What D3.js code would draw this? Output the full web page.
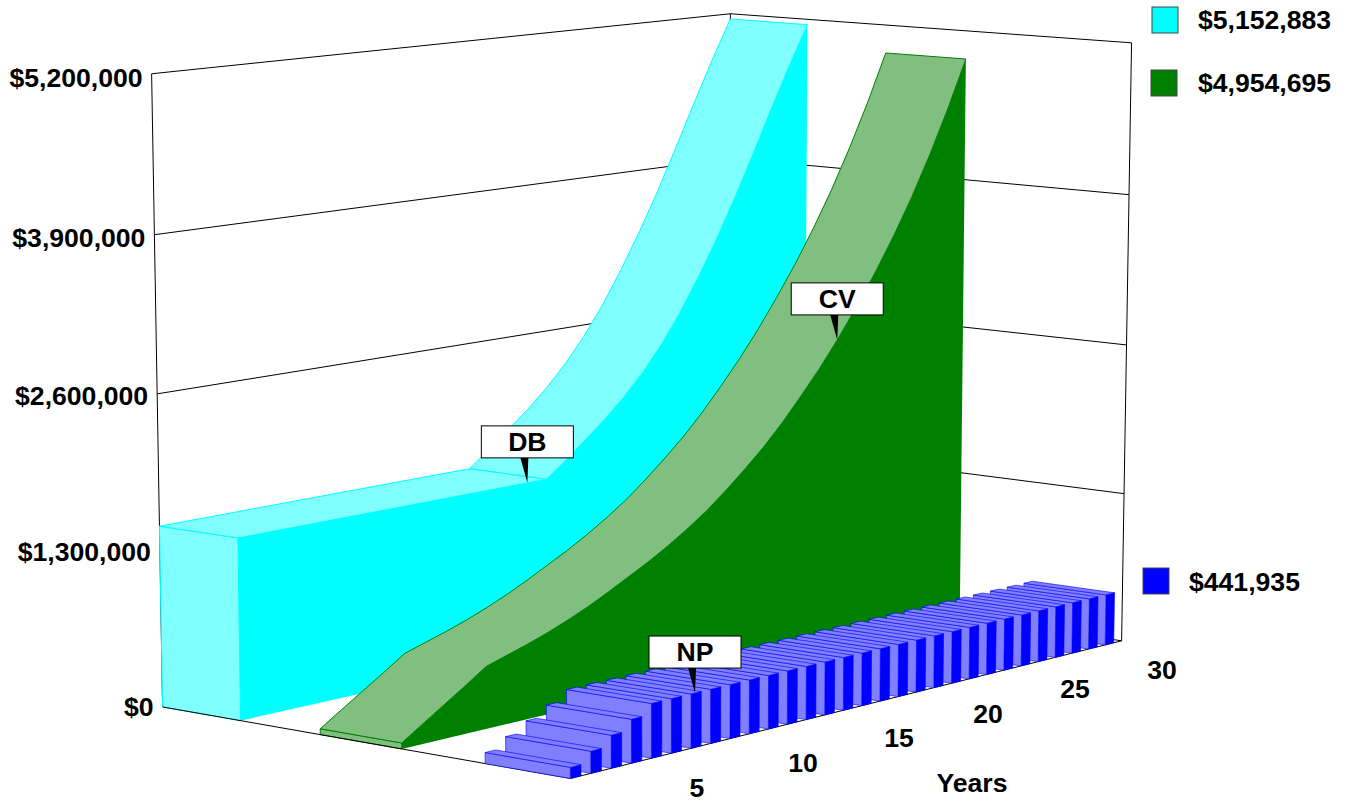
<!DOCTYPE html>
<html>
<head>
<meta charset="utf-8">
<script src="https://cdn.jsdelivr.net/npm/d3@7"></script>
<style>
  body { margin:0; background:#fff }
  text { font-family:"Liberation Sans", Arial, sans-serif; font-weight:bold; font-size:26.6px; fill:#000 }
</style>
</head>
<body>
<svg id="chart" width="1348" height="802"></svg>
<script>
const years = d3.range(1, 31)
const db = [1508000,1508000,1508000,1508000,1508000,1508000,1508000,1508000,1508000,1508000,
            1508000,1508000,1508000,1508000,1508000,1508000,1645000,1787000,1934000,2096000,
            2282000,2498000,2752000,3041000,3355000,3698000,4065000,4442000,4809000,5152883]
const cv = [48000,165000,280000,395000,514000,568000,622000,682000,750000,825000,
            910000,1000000,1090000,1190000,1300000,1420000,1560000,1710000,1870000,2050000,
            2250000,2460000,2690000,2940000,3205000,3495000,3810000,4160000,4540000,4954695]
const np = [88387,176774,265161,353548,441935,441935,441935,441935,441935,441935,
            441935,441935,441935,441935,441935,441935,441935,441935,441935,441935,
            441935,441935,441935,441935,441935,441935,441935,441935,441935,441935]
const valueTicks = [0, 1300000, 2600000, 3900000, 5200000]
const yearTicks = [5, 10, 15, 20, 25, 30]

// tick label positions along the front edge of the floor
const yearLabelX = d3.scaleLinear(yearTicks, [697, 803, 899, 988, 1075, 1162])
const yearLabelY = d3.scaleLinear(yearTicks, [788, 763, 738, 714, 689, 670])

const CYAN = "#00ffff", CYAN_LIGHT = "#80ffff"
const GREEN = "#008000", GREEN_LIGHT = "#80bf80"
const BLUE = "#0000ff", BLUE_LIGHT = "#8080ff"

// camera: fit a projective matrix to where the corners of the box sit on the page
// u = along the years, w = depth (0 at the left wall, 1 at the front), v = height
const anchors = [
  [0,0,0,163,707],[0,0,1,152,74],[0,0,.75,154,234],[0,0,.5,157,393],[0,0,.25,160,553],
  [1,0,1,730.5,14],[1,0,0,729,583],[1,0,.5,729,301],
  [1,1,1,1132,43],[1,1,0,1122,641],[1,1,.5,1126,345],[0,1,0,570,778]
]
function solve(A, b) {
  const n = b.length
  A = A.map((r, i) => [...r, b[i]])
  for (let i = 0; i < n; i++) {
    let p = i
    for (let j = i; j < n; j++) if (Math.abs(A[j][i]) > Math.abs(A[p][i])) p = j
    ;[A[i], A[p]] = [A[p], A[i]]
    for (let j = 0; j < n; j++) if (j != i) {
      const f = A[j][i] / A[i][i]
      for (let k = i; k <= n; k++) A[j][k] -= f * A[i][k]
    }
  }
  return A.map((r, i) => r[n] / r[i])
}
function fitCamera() {
  const rows = [], rhs = []
  anchors.forEach(([u, w, v, x, y]) => {
    rows.push([u,w,v,1,0,0,0,0,-x*u,-x*w,-x*v]); rhs.push(x)
    rows.push([0,0,0,0,u,w,v,1,-y*u,-y*w,-y*v]); rhs.push(y)
  })
  const idx = d3.range(11)
  return solve(idx.map(i => idx.map(j => d3.sum(rows, r => r[i]*r[j]))),
               idx.map(i => d3.sum(rows, (r, k) => r[i]*rhs[k])))
}
const m = fitCamera()
function proj([u, w, v]) {
  const d = m[8]*u + m[9]*w + m[10]*v + 1
  return [(m[0]*u + m[1]*w + m[2]*v + m[3]) / d, (m[4]*u + m[5]*w + m[6]*v + m[7]) / d]
}

const uYear = d3.scaleLinear([1, 30], [0, 1])
const vValue = d3.scaleLinear([0, 5200000], [0, 1])
const uBar = d3.scaleBand(years, [0, 1])
const barPart = 0.52 // share of a band the bar takes

const svg = d3.select("#chart")
const path = d3.line()

function face(points, fill, stroke, width) {
  svg.append("path")
    .attr("d", path(points.map(proj)) + "Z")
    .attr("fill", fill)
    .attr("stroke", stroke || "none")
    .attr("stroke-width", width || 1)
    .attr("stroke-linejoin", "round")
}
function edge(a, b) {
  svg.append("path")
    .attr("d", path([a, b].map(proj)))
    .attr("fill", "none")
    .attr("stroke", "#000")
    .attr("stroke-width", 1)
}

// walls
valueTicks.forEach(t => {
  if (t == 0) return
  const v = vValue(t)
  edge([0,0,v], [1,0,v])
  edge([1,0,v], [1,1,v])
})
edge([0,0,0], [0,0,1])
edge([1,0,0], [1,0,1])
edge([1,1,0], [1,1,1])
edge([1,0,0], [1,1,0])

// ribbon for one series: start cap, top strip, front face
function ribbon(values, w0, w1, dark, light, breakYear) {
  const top = w => values.map((d, i) => [uYear(years[i]), w, vValue(d)])
  const back = top(w0), front = top(w1)
  face([[0,w0,0],[0,w1,0],front[0],back[0]], light, dark)
  const cut = breakYear ? years.indexOf(breakYear) : 0
  if (cut) face([...back.slice(0, cut+1), ...front.slice(0, cut+1).reverse()], light, dark)
  face([...back.slice(cut), ...front.slice(cut).reverse()], light, dark)
  face([[0,w1,0], ...front, [1,w1,0]], dark)
}
ribbon(db, 0, 0.2, CYAN, CYAN_LIGHT, 16)
ribbon(cv, 0.4, 0.6, GREEN, GREEN_LIGHT)

// floor edges
edge([0,0,0], [0,1,0])
edge([0,1,0], [1,1,0])

// net premium bars, far ones first
years.slice().reverse().forEach(y => {
  const u0 = uBar(y), u1 = u0 + uBar.bandwidth() * barPart
  const v = vValue(np[years.indexOf(y)])
  face([[u0,1,0],[u1,1,0],[u1,1,v],[u0,1,v]], BLUE, BLUE, 0.6)
  face([[u0,0.8,0],[u0,1,0],[u0,1,v],[u0,0.8,v]], BLUE_LIGHT, BLUE, 0.6)
  face([[u0,0.8,v],[u0,1,v],[u1,1,v],[u1,0.8,v]], BLUE_LIGHT, BLUE, 0.6)
})

// value ticks
const money = d3.format("$,")
valueTicks.forEach(t => {
  const v = vValue(t)
  const [x, y] = proj([0, 0, v])
  svg.append("text").text(money(t))
    .attr("x", x - 9).attr("y", y + v*4)
    .attr("text-anchor", "end").attr("dominant-baseline", "central")
})

// year ticks
yearTicks.forEach(t => {
  svg.append("text").text(t)
    .attr("x", yearLabelX(t)).attr("y", yearLabelY(t))
    .attr("text-anchor", "middle").attr("dominant-baseline", "central")
})
svg.append("text").text("Years")
  .attr("x", 972).attr("y", 783)
  .attr("text-anchor", "middle").attr("dominant-baseline", "central")

// legend, last value of each series
const legend = [
  [CYAN, db[db.length-1], 1152, 7, 1198, 20],
  [GREEN, cv[cv.length-1], 1151, 70, 1198, 83],
  [BLUE, np[np.length-1], 1143, 568, 1189, 582]
]
legend.forEach(([color, value, bx, by, tx, ty]) => {
  svg.append("rect").attr("x", bx).attr("y", by).attr("width", 26).attr("height", 26)
    .attr("fill", color).attr("stroke", "#444").attr("stroke-width", 1)
  svg.append("text").text(money(value))
    .attr("x", tx).attr("y", ty).attr("dominant-baseline", "central")
})

// callouts: a box with a black pointer down to the series
function callout(label, tip) {
  const [x, y] = proj(tip)
  svg.append("path").attr("d", path([[x-7,y-25],[x+1,y-25],[x,y]]) + "Z").attr("fill", "#000")
  svg.append("rect").attr("x", x-46).attr("y", y-57).attr("width", 92).attr("height", 32)
    .attr("fill", "#fff").attr("stroke", "#000").attr("stroke-width", 1)
  svg.append("text").text(label)
    .attr("x", x).attr("y", y-41)
    .attr("text-anchor", "middle").attr("dominant-baseline", "central")
}
const dbAt = d3.scaleLinear(years, db), cvAt = d3.scaleLinear(years, cv)
callout("DB", [uYear(15), 0.2, vValue(dbAt(15))])
callout("CV", [uYear(22.95), 0.6, vValue(cvAt(22.95))])
callout("NP", [uBar(7) + uBar.bandwidth()*0.2, 1, vValue(np[6])])
</script>
</body>
</html>
